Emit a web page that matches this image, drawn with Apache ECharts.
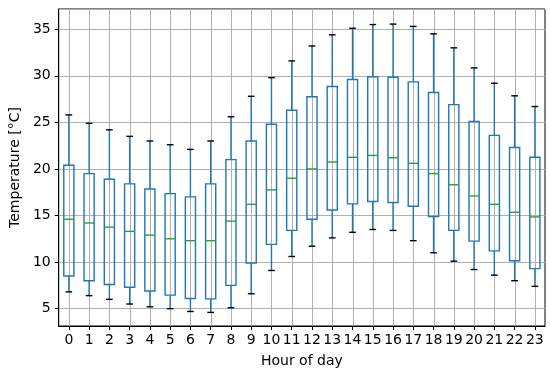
<!DOCTYPE html>
<html>
<head>
<meta charset="utf-8">
<script src="https://cdn.jsdelivr.net/npm/echarts@6/dist/echarts.min.js"></script>
<style>
html,body{margin:0;padding:0;background:#fff;}
#chart{width:550px;height:375px;}
</style>
</head>
<body>
<div id="chart"></div>
<script>
const hours = ['0','1','2','3','4','5','6','7','8','9','10','11','12','13','14','15','16','17','18','19','20','21','22','23'];
const whiskerLow  = [6.8, 6.4, 6.0, 5.5, 5.2, 5.0, 4.7, 4.6, 5.1, 6.6, 9.1, 10.6, 11.7, 12.6, 13.2, 13.5, 13.4, 12.3, 11.0, 10.1, 9.2, 8.6, 8.0, 7.4];
const q1          = [8.5, 8.0, 7.6, 7.3, 6.9, 6.45, 6.1, 6.05, 7.5, 9.9, 11.9, 13.4, 14.6, 15.6, 16.25, 16.5, 16.4, 16.0, 14.9, 13.4, 12.25, 11.2, 10.15, 9.3];
const median      = [14.6, 14.2, 13.75, 13.3, 12.9, 12.5, 12.3, 12.3, 14.4, 16.2, 17.75, 19.0, 20.0, 20.75, 21.25, 21.45, 21.2, 20.6, 19.5, 18.3, 17.1, 16.2, 15.35, 14.85];
const q3          = [20.4, 19.5, 18.9, 18.4, 17.85, 17.35, 17.0, 18.4, 21.0, 23.0, 24.8, 26.3, 27.75, 28.85, 29.6, 29.9, 29.85, 29.35, 28.2, 26.9, 25.1, 23.6, 22.3, 21.25];
const whiskerHigh = [25.8, 24.9, 24.2, 23.5, 23.0, 22.6, 22.1, 23.0, 25.6, 27.8, 29.8, 31.6, 33.2, 34.4, 35.1, 35.5, 35.55, 35.3, 34.5, 33.0, 30.85, 29.2, 27.85, 26.7];

const boxData = hours.map((h, i) => [i, whiskerLow[i], q1[i], median[i], q3[i], whiskerHigh[i]]);
const gridData = hours.map((h, i) => [i, median[i]]);

const BLUE = '#1f77b4', GREEN = '#2ca02c', LW = 1.4;

function renderItem(params, api) {
  const x = api.value(0);
  const lo = api.value(1), a = api.value(2), m = api.value(3), b = api.value(4), hi = api.value(5);
  const band = api.size([1, 0])[0];
  const bw = band * 0.5, cw = band * 0.33;
  const pLo = api.coord([x, lo]), pA = api.coord([x, a]), pM = api.coord([x, m]), pB = api.coord([x, b]), pHi = api.coord([x, hi]);
  const cx = pLo[0];
  return {
    type: 'group',
    children: [
      {type: 'line', shape: {x1: cx, y1: pLo[1], x2: cx, y2: pA[1]}, style: {stroke: BLUE, lineWidth: LW}},
      {type: 'line', shape: {x1: cx, y1: pB[1], x2: cx, y2: pHi[1]}, style: {stroke: BLUE, lineWidth: LW}},
      {type: 'rect', shape: {x: cx - bw / 2, y: pB[1], width: bw, height: pA[1] - pB[1]}, style: {stroke: BLUE, fill: 'none', lineWidth: LW}},
      {type: 'line', shape: {x1: cx - bw / 2, y1: pM[1], x2: cx + bw / 2, y2: pM[1]}, style: {stroke: GREEN, lineWidth: LW}},
      {type: 'line', shape: {x1: cx - cw / 2, y1: pLo[1], x2: cx + cw / 2, y2: pLo[1]}, style: {stroke: '#000', lineWidth: LW}},
      {type: 'line', shape: {x1: cx - cw / 2, y1: pHi[1], x2: cx + cw / 2, y2: pHi[1]}, style: {stroke: '#000', lineWidth: LW}}
    ]
  };
}

function renderGrid(params, api) {
  const p = api.coord([api.value(0), api.value(1)]);
  const cs = params.coordSys;
  const x = Math.round(p[0]) + 0.5;
  return {type: 'line', shape: {x1: x, y1: cs.y, x2: x, y2: cs.y + cs.height}, style: {stroke: '#b0b0b0', lineWidth: 1}};
}

const chart = echarts.init(document.getElementById('chart'), null, {renderer: 'canvas'});
const FONT = 'DejaVu Sans';
chart.setOption({
  animation: false,
  backgroundColor: '#fff',
  textStyle: {fontFamily: FONT},
  grid: {left: 57, right: 5, top: 9, bottom: 49, show: true, borderColor: '#000', borderWidth: 1, backgroundColor: 'transparent'},
  xAxis: {
    type: 'category',
    data: hours,
    boundaryGap: true,
    name: 'Hour of day',
    nameLocation: 'middle',
    nameGap: 28,
    nameTextStyle: {fontFamily: FONT, fontSize: 14, color: '#000'},
    axisLine: {show: true, lineStyle: {color: '#000', width: 1}},
    axisTick: {show: true, alignWithLabel: true, length: 4, lineStyle: {color: '#000', width: 1}},
    axisLabel: {interval: 0, margin: 7, fontFamily: FONT, fontSize: 14, color: '#000'},
    splitLine: {show: false}
  },
  yAxis: {
    type: 'value',
    min: 3.14,
    max: 37.17,
    minInterval: 5,
    maxInterval: 5,
    name: 'Temperature [°C]',
    nameLocation: 'middle',
    nameGap: 35,
    nameTextStyle: {fontFamily: FONT, fontSize: 14, color: '#000'},
    axisLine: {show: true, lineStyle: {color: '#000', width: 1}},
    axisTick: {show: true, length: 4, lineStyle: {color: '#000', width: 1}},
    axisLabel: {showMinLabel: false, showMaxLabel: false, margin: 8, fontFamily: FONT, fontSize: 14, color: '#000'},
    splitLine: {show: true, lineStyle: {color: '#b0b0b0', width: 1}}
  },
  series: [{
    type: 'custom',
    renderItem: renderGrid,
    encode: {x: 0, y: 1},
    data: gridData,
    z: 1,
    silent: true
  }, {
    type: 'custom',
    renderItem: renderItem,
    encode: {x: 0, y: [1, 2, 3, 4, 5]},
    data: boxData,
    z: 3,
    silent: true
  }]
});
</script>
</body>
</html>
